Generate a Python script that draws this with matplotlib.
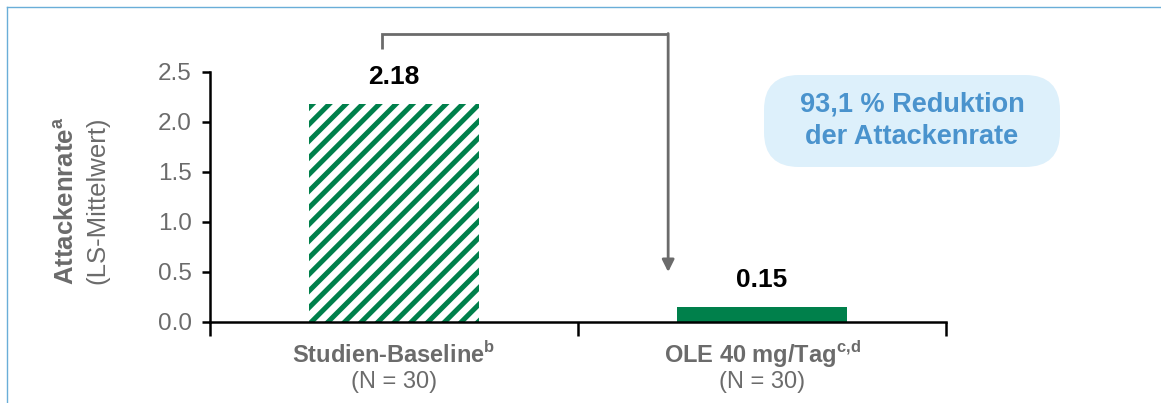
import matplotlib.pyplot as plt
from matplotlib.patches import FancyBboxPatch
from matplotlib.lines import Line2D

plt.rcParams['font.family'] = ['Liberation Sans', 'DejaVu Sans']
plt.rcParams['mathtext.fontset'] = 'custom'
plt.rcParams['mathtext.rm'] = 'Liberation Sans'
plt.rcParams['mathtext.bf'] = 'Liberation Sans:bold'
plt.rcParams['hatch.linewidth'] = 3.6

# Daten
categories = ['Studien-Baseline$^{\\mathbf{b}}$', 'OLE 40 mg/Tag$^{\\mathbf{c{,}d}}$']
n_labels = ['(N = 30)', '(N = 30)']
values = [2.18, 0.15]
value_labels = ['2.18', '0.15']
yticks = [0.0, 0.5, 1.0, 1.5, 2.0, 2.5]
reduction_text = '93,1 % Reduktion\nder Attackenrate'

green = '#00804b'
gray = '#6b6b6b'

fig = plt.figure(figsize=(11.61, 4.03), dpi=100)
ax = fig.add_axes([210/1161, 1 - 322/403, 736/1161, 250/403])

x = list(range(len(values)))
# schraffierter Balken (Baseline) und voller Balken (OLE)
ax.bar(x[0], values[0], width=0.46, facecolor='white', edgecolor=green,
       linewidth=0, hatch='//')
ax.bar(x[1], values[1], width=0.46, color=green, linewidth=0)

for xi, v, lab in zip(x, values, value_labels):
    ax.text(xi, v + 0.15, lab, ha='center', va='bottom', fontsize=19,
            fontweight='bold', color='black')

ax.set_xlim(-0.5, 1.5)
ax.set_ylim(0, 2.5)
ax.set_yticks(yticks)
ax.set_yticklabels([f'{t:.1f}' for t in yticks])
ax.set_xticks([-0.5, 0.5, 1.5])
ax.set_xticklabels([])
ax.tick_params(axis='y', direction='out', length=6, width=1.8, pad=7,
               labelsize=17.5, labelcolor=gray)
ax.tick_params(axis='x', direction='out', length=10, width=1.8)
for s in ['top', 'right']:
    ax.spines[s].set_visible(False)
for s in ['left', 'bottom']:
    ax.spines[s].set_linewidth(1.8)

# Kategorie-Beschriftung
for xi, cat, n in zip(x, categories, n_labels):
    ax.text(xi, -0.13, cat, transform=ax.get_xaxis_transform(), ha='center',
            va='center', fontsize=17, fontweight='bold', color=gray)
    ax.text(xi, -0.24, n, transform=ax.get_xaxis_transform(), ha='center',
            va='center', fontsize=17, color=gray)

# y-Achsentitel
fig.text(66/1161, 1 - 201/403, 'Attackenrate$^{\\mathbf{a}}$', rotation=90,
         ha='center', va='center', fontsize=18.5, fontweight='bold', color=gray)
fig.text(97/1161, 1 - 200/403, '(LS-Mittelwert)', rotation=90,
         ha='center', va='center', fontsize=18.5, color=gray)

# Klammer-Pfeil
ax.plot([-0.033, -0.033, 0.745], [2.73, 2.88, 2.88], color=gray, lw=2,
        clip_on=False, solid_capstyle='butt', solid_joinstyle='miter')
ax.annotate('', xy=(0.745, 0.50), xytext=(0.745, 2.885),
            arrowprops=dict(arrowstyle='-|>', color=gray, lw=2,
                            mutation_scale=18, shrinkA=0, shrinkB=0),
            annotation_clip=False)

# Reduktionsbox
box = FancyBboxPatch((764/1161, 1 - 167/403), 296/1161, 92/403,
                     boxstyle='round,pad=0,rounding_size=0.03',
                     transform=fig.transFigure, facecolor='#ddf0fb',
                     edgecolor='none', mutation_aspect=1161/403)
fig.patches.append(box)
fig.text(912/1161, 1 - 121/403, reduction_text, ha='center', va='center',
         fontsize=19.5, fontweight='bold', color='#4a93cd', linespacing=1.35)

# Rahmenlinien
fig.add_artist(Line2D([7/1161, 1], [1 - 7/403, 1 - 7/403],
                      transform=fig.transFigure, color='#6aaed8', lw=1))
fig.add_artist(Line2D([7/1161, 7/1161], [0, 1 - 7/403],
                      transform=fig.transFigure, color='#6aaed8', lw=1))

fig.savefig('out.png', dpi=100)
